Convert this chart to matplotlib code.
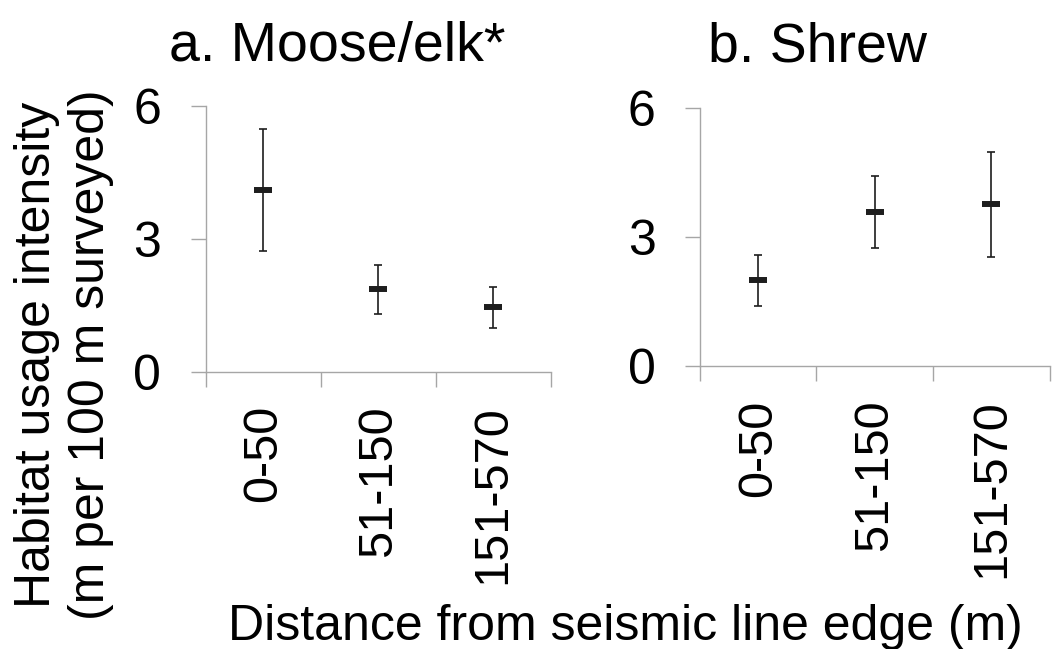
import matplotlib
matplotlib.use("Agg")
import matplotlib.pyplot as plt

plt.rcParams['font.family'] = ['Liberation Sans', 'DejaVu Sans']

categories = ["0-50", "51-150", "151-570"]

moose_mean = [4.10, 1.86, 1.45]
moose_low = [2.73, 1.29, 0.99]
moose_high = [5.47, 2.41, 1.91]

shrew_mean = [2.00, 3.60, 3.78]
shrew_low = [1.40, 2.75, 2.55]
shrew_high = [2.59, 4.42, 4.99]

yticks = [0, 3, 6]

axis_grey = "#a6a6a6"
mark_col = "#1e1e1e"

fig = plt.figure(figsize=(10.55, 6.49), dpi=100)
ax_a = fig.add_axes([0.195, 0.4273, 0.327, 0.4099])
ax_b = fig.add_axes([0.6635, 0.4356, 0.3313, 0.3975])


def draw_panel(ax, mean, low, high):
    x = [i + 0.5 for i in range(len(categories))]
    err = [[m - l for m, l in zip(mean, low)], [h - m for m, h in zip(mean, high)]]
    ax.errorbar(x, mean, yerr=err, fmt='none', ecolor=mark_col, elinewidth=1.2,
                capsize=3.2, capthick=1.2)
    ax.plot(x, mean, linestyle='none', marker='_', markersize=12.5,
            markeredgewidth=4.3, color=mark_col)
    ax.set_xlim(0, 3)
    ax.set_ylim(0, 6)
    ax.set_yticks(yticks)
    ax.set_yticklabels([str(t) for t in yticks], fontsize=36)
    ax.set_xticks([0, 1, 2, 3])
    ax.set_xticklabels([])
    ax.set_xticks(x, minor=True)
    ax.set_xticklabels(categories, minor=True, rotation=90, fontsize=35)
    ax.tick_params(axis='x', which='minor', length=0, pad=24)
    ax.tick_params(axis='x', which='major', length=10.5, width=1, color=axis_grey)
    ax.tick_params(axis='y', length=11, width=1, color=axis_grey, pad=21)
    for s in ['top', 'right']:
        ax.spines[s].set_visible(False)
    for s in ['left', 'bottom']:
        ax.spines[s].set_color(axis_grey)
        ax.spines[s].set_linewidth(1)


draw_panel(ax_a, moose_mean, moose_low, moose_high)
draw_panel(ax_b, shrew_mean, shrew_low, shrew_high)

fig.text(337 / 1055, 1 - 61 / 649, "a. Moose/elk*", fontsize=40, ha='center', va='baseline')
fig.text(818 / 1055, 1 - 61 / 649, "b. Shrew", fontsize=40, ha='center', va='baseline')
fig.text(64 / 1055, 1 - 355 / 649, "Habitat usage intensity\n(m per 100 m surveyed)",
         fontsize=36, rotation=90, ha='center', va='center', multialignment='center')
fig.text(625 / 1055, 1 - 640 / 649, "Distance from seismic line edge (m)",
         fontsize=36, ha='center', va='baseline')

fig.savefig("out.png", dpi=100)
